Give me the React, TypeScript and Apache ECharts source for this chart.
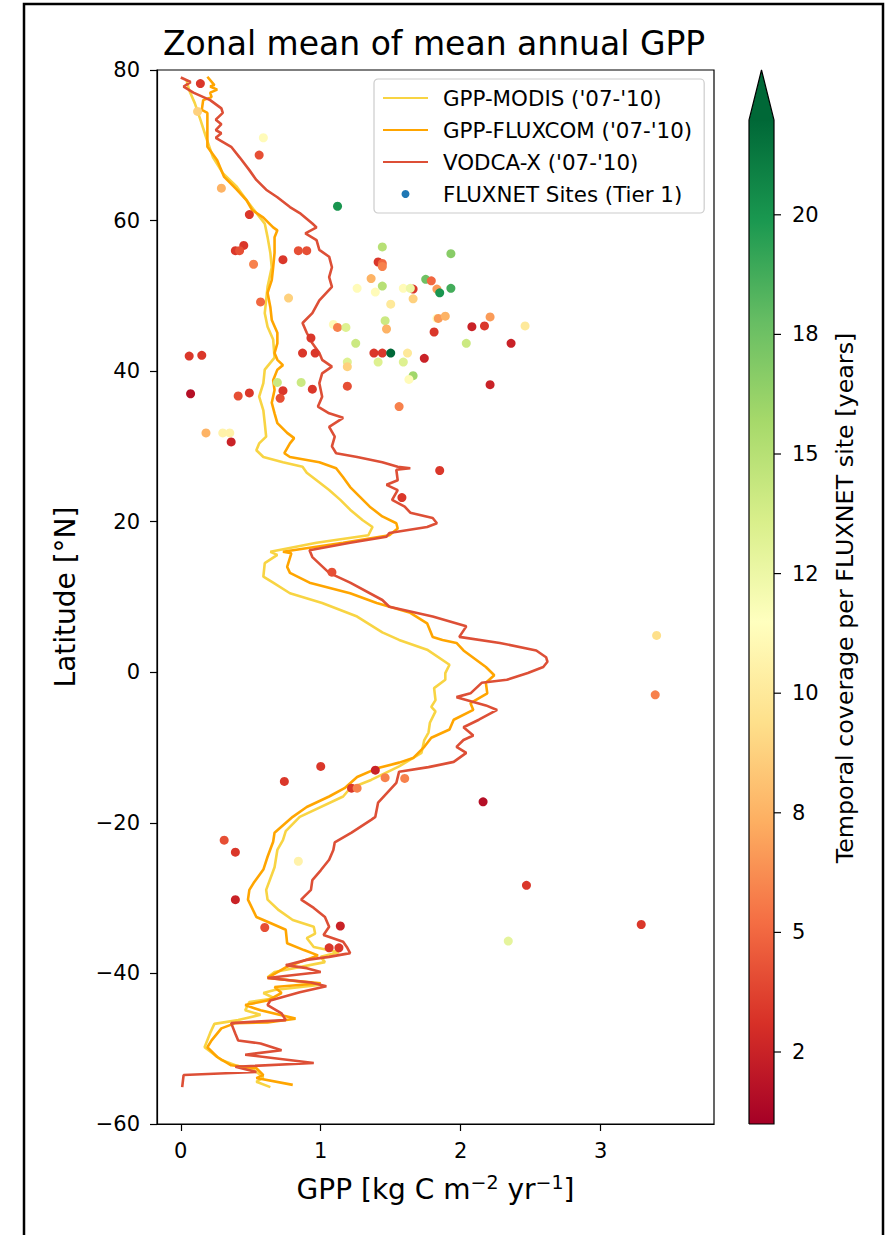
import React, { useEffect, useRef } from "react";
import * as echarts from "echarts";

// ---------- data (GPP [kg C m-2 yr-1], latitude [deg N]) ----------
const MODIS: [number, number][] = [
  [0.04,78.7],[0.06,77.3],[0.10,75.6],[0.14,73.4],[0.18,71.1],[0.23,68.4],[0.30,66.3],[0.40,64.5],
  [0.47,62.7],[0.54,61.0],[0.60,59.6],[0.62,57.8],[0.64,55.7],[0.65,53.8],[0.62,51.2],[0.60,47.7],
  [0.62,45.9],[0.66,44.2],[0.67,41.8],[0.60,40.2],[0.59,38.4],[0.56,36.6],[0.59,34.8],[0.60,33.1],
  [0.61,31.3],[0.56,30.4],[0.54,29.5],[0.59,28.6],[0.73,27.9],[0.87,27.3],[0.90,26.5],[0.97,25.5],
  [1.06,24.2],[1.14,22.9],[1.21,21.6],[1.30,20.2],[1.37,19.3],[1.34,18.2],[0.97,17.2],[0.64,16.0],
  [0.69,15.6],[0.60,14.5],[0.59,12.7],[0.66,11.9],[0.78,10.5],[1.01,9.2],[1.26,7.4],[1.44,5.3],
  [1.56,4.3],[1.76,3.0],[1.92,1.0],[1.89,-0.1],[1.89,-1.0],[1.81,-2.1],[1.82,-3.7],[1.79,-4.6],
  [1.82,-5.2],[1.78,-6.7],[1.77,-8.0],[1.74,-9.0],[1.72,-10.7],[1.56,-12.5],[1.36,-14.3],[1.21,-15.4],
  [1.16,-16.5],[0.85,-19.2],[0.75,-21.1],[0.73,-22.3],[0.69,-23.6],[0.67,-25.9],[0.61,-28.9],[0.62,-30.2],
  [0.70,-31.6],[0.80,-32.9],[0.95,-33.8],[0.96,-34.7],[0.90,-35.3],[0.95,-36.5],[1.13,-37.2],[1.00,-37.8],
  [1.03,-38.5],[0.67,-39.8],[0.62,-40.5],[1.00,-41.5],[0.67,-42.2],[0.59,-42.6],[0.67,-43.3],[0.49,-43.8],
  [0.46,-44.9],[0.57,-45.5],[0.41,-46.2],[0.24,-46.7],[0.21,-47.9],[0.17,-49.8],[0.29,-51.5],[0.39,-52.2],
  [0.52,-52.8],[0.59,-53.8],[0.54,-54.4],[0.64,-55.1]
];

const FLUXCOM: [number, number][] = [
  [0.19,79.1],[0.24,78.0],[0.21,77.8],[0.26,77.4],[0.21,77.0],[0.22,76.4],[0.16,76.0],[0.15,74.7],
  [0.19,74.3],[0.19,72.4],[0.19,71.1],[0.19,69.8],[0.26,68.0],[0.31,65.8],[0.40,64.1],[0.47,62.7],
  [0.51,61.4],[0.59,60.4],[0.66,59.1],[0.69,58.7],[0.67,57.8],[0.67,55.7],[0.66,53.8],[0.65,52.1],
  [0.62,50.4],[0.64,48.5],[0.65,46.8],[0.69,45.1],[0.69,43.7],[0.67,42.4],[0.69,41.5],[0.73,40.8],
  [0.69,40.2],[0.66,38.8],[0.67,37.5],[0.65,35.8],[0.67,34.4],[0.69,33.1],[0.76,31.8],[0.81,31.1],
  [0.78,30.4],[0.74,29.1],[0.78,28.6],[0.99,27.9],[1.11,27.1],[1.16,25.9],[1.21,24.6],[1.28,23.3],
  [1.35,22.0],[1.44,20.7],[1.54,19.8],[1.55,19.1],[1.49,18.2],[1.16,17.2],[0.73,16.0],[0.79,15.8],
  [0.76,14.0],[0.78,13.2],[0.92,11.9],[1.21,10.5],[1.40,9.2],[1.64,7.9],[1.76,6.5],[1.80,4.7],
  [1.87,4.3],[1.97,3.9],[2.02,2.9],[2.18,0.7],[2.24,-0.4],[2.18,-1.4],[2.19,-2.8],[2.07,-4.1],
  [2.09,-5.0],[1.95,-6.3],[1.92,-7.6],[1.79,-8.7],[1.74,-9.9],[1.66,-11.4],[1.56,-12.0],[1.41,-12.7],
  [1.26,-13.9],[1.17,-15.4],[1.06,-16.5],[0.90,-17.9],[0.80,-19.2],[0.67,-21.3],[0.66,-22.5],[0.62,-24.5],
  [0.59,-26.2],[0.52,-28.0],[0.49,-28.9],[0.48,-30.2],[0.54,-32.5],[0.64,-33.3],[0.75,-34.2],[0.76,-36.0],
  [0.88,-36.9],[0.98,-37.6],[0.75,-39.2],[0.62,-40.6],[1.00,-41.3],[0.67,-41.8],[0.72,-42.6],[0.62,-43.6],
  [0.46,-44.2],[0.57,-44.9],[0.82,-46.0],[0.62,-46.5],[0.39,-46.6],[0.29,-47.3],[0.22,-48.9],[0.19,-49.8],
  [0.26,-51.1],[0.36,-52.2],[0.54,-52.6],[0.59,-53.5],[0.54,-53.9],[0.80,-54.8]
];

const VODCA: [number, number][] = [
  [0.00,79.0],[0.07,78.4],[0.02,77.8],[0.09,77.0],[0.21,76.0],[0.29,74.9],[0.30,74.3],[0.25,73.4],
  [0.29,72.8],[0.25,72.0],[0.29,71.6],[0.25,71.0],[0.36,69.8],[0.42,68.4],[0.49,66.7],[0.54,65.4],
  [0.61,64.1],[0.69,63.1],[0.78,61.8],[0.85,61.0],[0.94,59.6],[0.97,59.1],[0.89,58.3],[0.97,57.4],
  [0.99,56.1],[1.06,55.2],[1.08,53.8],[1.06,52.5],[1.08,51.2],[1.04,50.4],[0.99,49.4],[0.94,47.7],
  [0.87,46.4],[0.90,45.1],[0.94,43.7],[0.99,42.4],[1.01,41.5],[1.08,40.6],[1.01,39.7],[0.99,38.4],
  [1.01,36.6],[0.98,35.3],[1.06,34.4],[1.16,33.8],[1.06,32.6],[1.10,31.3],[1.08,30.0],[1.11,29.1],
  [1.26,28.6],[1.44,27.9],[1.55,27.3],[1.64,27.1],[1.54,26.9],[1.55,25.5],[1.47,24.9],[1.55,24.2],
  [1.51,22.9],[1.60,22.0],[1.64,21.2],[1.80,20.5],[1.83,19.8],[1.76,19.3],[1.49,18.5],[1.47,18.0],
  [1.21,17.2],[0.92,16.2],[0.94,15.3],[1.06,13.2],[1.21,11.9],[1.44,9.6],[1.49,8.7],[1.80,7.4],
  [2.04,6.1],[1.99,4.7],[2.28,3.9],[2.54,2.9],[2.61,2.0],[2.62,1.4],[2.59,0.7],[2.48,-0.1],
  [2.33,-1.0],[2.15,-1.4],[2.07,-2.8],[1.97,-3.3],[2.18,-4.4],[2.26,-5.0],[2.13,-6.3],[2.02,-7.3],
  [2.09,-8.4],[2.02,-9.0],[1.97,-9.9],[2.04,-10.7],[1.95,-11.9],[1.77,-12.6],[1.56,-13.2],[1.54,-14.7],
  [1.41,-17.3],[1.39,-19.2],[1.36,-19.6],[1.22,-21.3],[1.10,-22.6],[1.09,-23.6],[1.06,-24.9],[1.00,-26.3],
  [0.94,-27.6],[0.93,-28.9],[0.86,-30.2],[0.95,-31.3],[1.03,-32.5],[1.06,-33.8],[1.02,-34.9],[1.16,-35.8],
  [1.19,-36.6],[1.21,-37.3],[1.06,-37.8],[0.90,-38.2],[0.75,-38.9],[0.90,-39.3],[1.00,-39.8],[0.62,-40.6],
  [0.93,-41.2],[1.04,-41.7],[0.85,-42.5],[0.64,-43.6],[0.62,-44.2],[0.72,-45.3],[0.75,-46.2],[0.54,-46.4],
  [0.36,-46.6],[0.39,-48.0],[0.41,-48.9],[0.57,-49.3],[0.72,-50.2],[0.46,-50.8],[0.95,-51.9],[0.39,-52.4],
  [0.54,-53.1],[0.02,-53.5],[0.01,-55.1]
];

// FLUXNET sites: [GPP, latitude, temporal coverage in years]
const SITES: [number, number, number][] = [
  [0.14,78.2,3],[0.12,74.5,9],[0.59,71.0,11],[0.56,68.7,4],[0.29,64.3,8],[1.12,61.9,20],[0.49,60.8,3],
  [0.45,56.7,3],[0.39,56.0,3],[0.42,56.0,4],[0.52,54.2,6],[0.73,54.8,3],[0.84,56.0,4],[0.90,56.0,4],
  [0.57,49.2,5],[0.77,49.7,9],[1.09,46.2,11],[1.12,45.8,6],[1.18,45.8,13],[0.93,44.4,3],[0.87,42.4,3],
  [0.96,42.4,3],[0.06,42.0,3],[0.15,42.1,3],[1.38,42.4,3],[1.44,42.4,3],[1.50,42.4,22],[1.62,42.4,10],
  [1.74,41.7,2],[1.19,41.2,13],[1.19,40.6,9],[1.41,41.2,13],[1.59,41.2,13],[1.66,39.4,16],[1.63,38.9,11],
  [2.21,38.2,2],[0.69,38.5,14],[0.86,38.5,14],[1.19,38.0,4],[0.73,37.4,3],[0.71,36.4,4],[0.94,37.6,3],
  [0.07,37.0,1],[0.41,36.7,4],[0.49,37.1,3],[1.56,35.3,6],[0.18,31.8,8],[0.30,31.8,10.5],[0.35,31.8,10.5],
  [0.36,30.6,2],[1.85,26.8,3],[1.58,23.2,3],[1.08,13.3,4],[1.44,56.5,15],[1.93,55.6,17],[1.41,54.5,3],
  [1.44,54.3,5],[1.44,53.9,6],[1.36,52.3,8],[1.75,52.2,18],[1.79,52.0,5],[1.83,50.9,7],[1.85,50.4,20],
  [1.93,51.0,19],[1.66,50.9,3],[1.66,49.6,9],[1.26,51.0,11],[1.39,50.5,11],[1.44,51.3,15],[1.59,51.0,11],
  [1.64,51.0,12],[1.50,48.9,10],[1.46,46.7,14],[1.47,45.6,8],[1.83,47.0,11],[1.84,47.0,7],[1.89,47.3,8],
  [1.81,45.2,3],[2.08,45.9,2],[2.17,46.0,3],[2.21,47.2,7],[2.46,46.0,10],[1.25,43.7,14],[2.04,43.7,14],
  [2.36,43.7,2],[3.40,4.9,9.5],[3.39,-3.0,6],[1.00,-12.5,3],[0.74,-14.5,3],[1.39,-13.0,2],[1.46,-14.0,6],
  [1.60,-14.1,6],[1.22,-15.4,3],[1.26,-15.4,6],[2.16,-17.2,1],[0.31,-22.3,4],[0.39,-23.9,3],[0.84,-25.1,10.5],
  [2.47,-28.3,3],[0.39,-30.2,2],[0.60,-33.9,4],[1.14,-33.7,2],[3.29,-33.5,3],[2.34,-35.7,12.5],
  [1.06,-36.6,3],[1.13,-36.6,3]
];

const X_TICKS = [0, 1, 2, 3];
const CB_TICKS = [2, 5, 8, 10, 12, 15, 18, 20];
const SERIES_NAMES = ["GPP-MODIS ('07-'10)", "GPP-FLUXCOM ('07-'10)", "VODCA-X ('07-'10)", "FLUXNET Sites (Tier 1)"];
const TITLE = "Zonal mean of mean annual GPP";
const CB_LABEL = "Temporal coverage per FLUXNET site [years]";

// ---------- styling ----------
const FONT = "DejaVu Sans";
const RDYLGN = ["#a50026", "#d73027", "#f46d43", "#fdae61", "#fee08b", "#ffffbf", "#d9ef8b", "#a6d96a", "#66bd63", "#1a9850", "#006837"];
const LINE_COLORS = ["#f8d443", "#ffa500", "#dd4f36"];

const CB = { x: 749, w: 25, top: 120, bottom: 1124, tip: 70, tick0: 1052, step: 119.6 };

function hexToRgb(h: string) {
  return [parseInt(h.slice(1, 3), 16), parseInt(h.slice(3, 5), 16), parseInt(h.slice(5, 7), 16)];
}
function rdylgn(f: number) {
  const t = Math.max(0, Math.min(1, f)) * (RDYLGN.length - 1);
  const i = Math.min(RDYLGN.length - 2, Math.floor(t));
  const a = hexToRgb(RDYLGN[i]);
  const b = hexToRgb(RDYLGN[i + 1]);
  const u = t - i;
  const c = a.map((v, k) => Math.round(v + (b[k] - v) * u));
  return `rgb(${c[0]},${c[1]},${c[2]})`;
}
function tickIndex(v: number) {
  const t = CB_TICKS;
  const n = t.length;
  if (v <= t[0]) return (v - t[0]) / (t[1] - t[0]);
  if (v >= t[n - 1]) return n - 1 + (v - t[n - 1]) / (t[n - 1] - t[n - 2]);
  for (let i = 0; i < n - 1; i++) {
    if (v >= t[i] && v <= t[i + 1]) return i + (v - t[i]) / (t[i + 1] - t[i]);
  }
  return 0;
}
function tickY(v: number) {
  return CB.tick0 - tickIndex(v) * CB.step;
}
function yearsColor(v: number) {
  const y = tickY(v);
  return rdylgn((CB.bottom - y) / (CB.bottom - CB.top));
}

export default function App() {
  const ref = useRef<HTMLDivElement>(null);

  useEffect(() => {
    if (!ref.current) return;
    const chart = echarts.init(ref.current, undefined, { renderer: "svg" });

    const n = RDYLGN.length;
    // offset 0 = top (green), offset 1 = bottom (red)
    const gradStops = RDYLGN.map((_, i) => ({ offset: i / (n - 1), color: RDYLGN[n - 1 - i] }));

    const graphics: any[] = [
      {
        type: "rect",
        shape: { x: 24, y: 4, width: 859, height: 1300 },
        style: { fill: "none", stroke: "#000", lineWidth: 2.5 },
        silent: true,
        z: 0,
      },
      {
        type: "rect",
        shape: { x: CB.x, y: CB.top, width: CB.w, height: CB.bottom - CB.top },
        style: { fill: new echarts.graphic.LinearGradient(0, 0, 0, 1, gradStops) },
      },
      {
        type: "polygon",
        shape: { points: [[CB.x, CB.top + 0.5], [CB.x + CB.w, CB.top + 0.5], [CB.x + CB.w / 2, CB.tip]] },
        style: { fill: RDYLGN[n - 1] },
      },
      {
        type: "polyline",
        shape: {
          points: [[CB.x, CB.bottom], [CB.x, CB.top], [CB.x + CB.w / 2, CB.tip], [CB.x + CB.w, CB.top], [CB.x + CB.w, CB.bottom], [CB.x, CB.bottom]],
        },
        style: { fill: "none", stroke: "#000", lineWidth: 1.2 },
      },
      ...CB_TICKS.map((t) => ({
        type: "line",
        shape: { x1: CB.x + CB.w, y1: tickY(t), x2: CB.x + CB.w + 7, y2: tickY(t) },
        style: { stroke: "#000", lineWidth: 1.2 },
      })),
      ...CB_TICKS.map((t) => ({
        type: "text",
        x: CB.x + CB.w + 18,
        y: tickY(t),
        style: {
          text: String(t),
          font: `21px "${FONT}"`,
          fill: "#000",
          textAlign: "left",
          textVerticalAlign: "middle",
          align: "left",
          verticalAlign: "middle",
        },
      })),
      {
        type: "text",
        x: 845,
        y: 598,
        rotation: Math.PI / 2,
        style: {
          text: CB_LABEL,
          font: `23.8px "${FONT}"`,
          fill: "#000",
          textAlign: "center",
          textVerticalAlign: "middle",
          align: "center",
          verticalAlign: "middle",
        },
      },
    ];

    const option: any = {
      animation: false,
      backgroundColor: "#fff",
      textStyle: { fontFamily: FONT },
      title: {
        text: TITLE,
        left: 163,
        top: 22,
        padding: 0,
        textStyle: { fontSize: 33, fontWeight: "normal", fontFamily: FONT, color: "#000", lineHeight: 42 },
      },
      grid: {
        left: 157,
        right: 896 - 714,
        top: 70,
        bottom: 1235 - 1124,
        show: true,
        borderColor: "#000",
        borderWidth: 1.2,
        backgroundColor: "transparent",
        containLabel: false,
      },
      legend: {
        orient: "vertical",
        left: 374,
        top: 79,
        data: SERIES_NAMES.map((name, i) => (i < 3 ? { name, itemStyle: { opacity: 0 } } : { name })),
        itemWidth: 45,
        itemHeight: 8,
        itemGap: 8,
        padding: [7, 12, 7, 8],
        backgroundColor: "rgba(255,255,255,0.8)",
        borderColor: "#cccccc",
        borderWidth: 1.2,
        borderRadius: 4,
        selectedMode: false,
        textStyle: { fontSize: 21.4, fontFamily: FONT, color: "#000", lineHeight: 24, padding: [0, 0, 0, 10] },
      },
      xAxis: {
        type: "value",
        min: -0.17,
        max: 3.81,
        name: "GPP [kg C m{sup|−2} yr{sup|−1}]",
        nameLocation: "middle",
        nameGap: 48,
        nameTextStyle: {
          fontSize: 28,
          fontFamily: FONT,
          color: "#000",
          lineHeight: 34,
          rich: { sup: { fontSize: 19, fontFamily: FONT, color: "#000", verticalAlign: "top", lineHeight: 20 } },
        },
        axisLine: { show: true, onZero: false, lineStyle: { color: "#000", width: 1.2 } },
        axisTick: { show: true, customValues: X_TICKS, length: 7, lineStyle: { color: "#000", width: 1.2 } },
        axisLabel: { customValues: X_TICKS, fontSize: 21, fontFamily: FONT, color: "#000", margin: 16 },
        splitLine: { show: false },
      },
      yAxis: {
        type: "value",
        min: -60,
        max: 80,
        interval: 20,
        name: "Latitude [°N]",
        nameLocation: "middle",
        nameRotate: 90,
        nameGap: 78,
        nameTextStyle: { fontSize: 28, fontFamily: FONT, color: "#000" },
        axisLine: { show: true, onZero: false, lineStyle: { color: "#000", width: 1.2 } },
        axisTick: { show: true, length: 7, lineStyle: { color: "#000", width: 1.2 } },
        axisLabel: {
          fontSize: 21,
          fontFamily: FONT,
          color: "#000",
          margin: 17,
          formatter: (v: number) => (v < 0 ? "\u2212" + Math.abs(v) : String(v)),
        },
        splitLine: { show: false },
      },
      series: [
        {
          name: SERIES_NAMES[0],
          type: "line",
          data: MODIS,
          symbol: "none",
          showSymbol: false,
          lineStyle: { color: LINE_COLORS[0], width: 2.6 },
          itemStyle: { color: LINE_COLORS[0] },
          z: 2,
        },
        {
          name: SERIES_NAMES[1],
          type: "line",
          data: FLUXCOM,
          symbol: "none",
          showSymbol: false,
          lineStyle: { color: LINE_COLORS[1], width: 2.6 },
          itemStyle: { color: LINE_COLORS[1] },
          z: 3,
        },
        {
          name: SERIES_NAMES[2],
          type: "line",
          data: VODCA,
          symbol: "none",
          showSymbol: false,
          lineStyle: { color: LINE_COLORS[2], width: 2.6 },
          itemStyle: { color: LINE_COLORS[2] },
          z: 4,
        },
        {
          name: SERIES_NAMES[3],
          type: "scatter",
          symbolSize: 9,
          itemStyle: { color: "#1f77b4", opacity: 1 },
          data: SITES.map(([g, lat, yrs]) => ({ value: [g, lat, yrs], itemStyle: { color: yearsColor(yrs), opacity: 1 } })),
          z: 5,
        },
      ],
      graphic: graphics,
    };

    chart.setOption(option);
    return () => chart.dispose();
  }, []);

  return <div ref={ref} style={{ position: "absolute", left: 0, top: 0, width: 896, height: 1235 }} />;
}
